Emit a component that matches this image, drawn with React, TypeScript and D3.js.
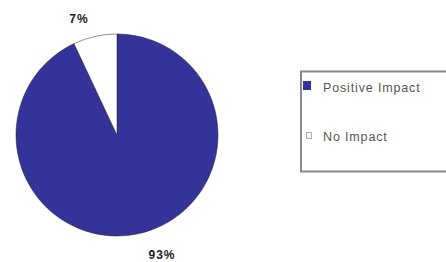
import React from "react";
import * as d3 from "d3";

const categories = ["Positive Impact", "No Impact"];
const values = [93, 7];
const colors = ["#333399", "#ffffff"];
const labels = ["93%", "7%"];

export default function App() {
  const W = 446, H = 262;
  const cx = 117, cy = 135, r = 101;
  const pie = d3.pie<number>().sort(null).value((d) => d);
  const arcs = pie(values);
  const arc = d3.arc<d3.PieArcDatum<number>>().innerRadius(0).outerRadius(r);
  const labelPos = [
    { x: 162, y: 259 },
    { x: 79, y: 23 },
  ];
  const itemY = [87, 136];
  return (
    <svg width={W} height={H} style={{ position: "absolute", left: 0, top: 0 }} fontFamily="Arial, Liberation Sans, sans-serif">
      <rect width={W} height={H} fill="#fff" />
      <g transform={`translate(${cx},${cy})`}>
        {arcs.map((a, i) => (
          <path key={i} d={arc(a) || ""} fill={colors[i]} stroke="#222" strokeWidth={0.5} />
        ))}
      </g>
      {labels.map((l, i) => (
        <text key={i} x={labelPos[i].x} y={labelPos[i].y} textAnchor="middle" fontSize={12} fontWeight="bold" letterSpacing={1} fill="#222">{l}</text>
      ))}
      <rect x={301} y={71.5} width={150} height={100} fill="#fff" stroke="#888" strokeWidth={2} />
      {categories.map((c, i) => (
        <g key={i}>
          {i === 0 ? (
            <rect x={303.5} y={itemY[i] - 5.5} width={7} height={8} fill={colors[i]} stroke="#333399" strokeWidth={1} />
          ) : (
            <rect x={306.5} y={itemY[i] - 3.5} width={5} height={6} fill="#fff" stroke="#aaa" strokeWidth={1} />
          )}
          <text x={323} y={itemY[i] + 4.5} fontSize={12.5} letterSpacing={0.85} fill="#555">{c}</text>
        </g>
      ))}
    </svg>
  );
}
